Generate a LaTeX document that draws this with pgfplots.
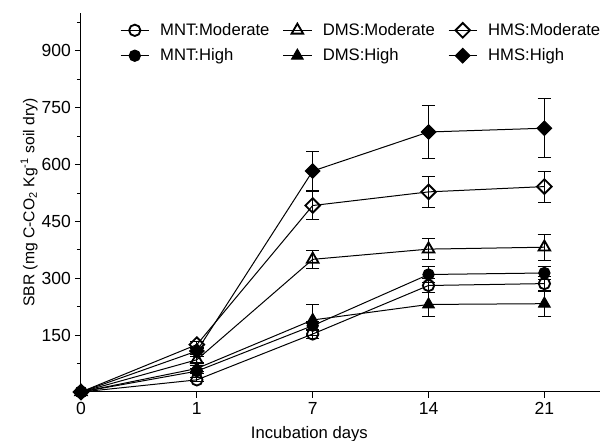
\documentclass[border=0pt]{standalone}
\usepackage{pgfplots}
\pgfplotsset{compat=1.18}
\usepackage{pgfplotstable}
\usepackage{fontspec}
\setmainfont{Liberation Sans}

\pgfplotstableread{
x y e
0 0 0
1 32 5
2 153 12
3 281 18
4 286 18
}\mntmod
\pgfplotstableread{
x y e
0 0 0
1 85 8
2 350 24
3 377 28
4 382 34
}\dmsmod
\pgfplotstableread{
x y e
0 0 0
1 125 8
2 492 36
3 528 41
4 542 41
}\hmsmod
\pgfplotstableread{
x y e
0 0 0
1 55 6
2 175 12
3 310 20
4 314 18
}\mnthigh
\pgfplotstableread{
x y e
0 0 0
1 62 8
2 190 40
3 231 32
4 233 33
}\dmshigh
\pgfplotstableread{
x y e
0 0 0
1 108 8
2 583 51
3 686 71
4 696 78
}\hmshigh

\begin{document}
\begin{tikzpicture}
\useasboundingbox (-48.6pt,-29.4pt) rectangle (316.2pt,235.2pt);
\begin{axis}[
  at={(0,0)}, anchor=south west,
  scale only axis,
  width=311.4pt, height=227.4pt,
  xmin=0, xmax=4.48,
  ymin=0, ymax=1000,
  axis x line*=bottom,
  axis y line*=left,
  axis line style={line width=0.6pt},
  xtick={0,1,2,3,4},
  xticklabels={0,1,7,14,21},
  ytick={150,300,450,600,750,900},
  minor ytick={75,225,375,525,675,825,975},
  tick align=outside,
  major tick length=3.6pt,
  minor tick length=2.4pt,
  tick style={black, line width=0.6pt},
  /pgf/number format/assume math mode=true,
  tick label style={font=\fontsize{10.5}{12}\selectfont},
  xticklabel style={yshift=1pt},
  yticklabel style={xshift=1pt},
  xlabel={Incubation days},
  ylabel={SBR (mg C-CO\textsubscript{2} Kg\textsuperscript{-1} soil dry)},
  xlabel style={font=\fontsize{10}{12}\selectfont, at={(axis description cs:0.44,0)}, yshift=-17pt, anchor=north},
  ylabel style={font=\fontsize{9.4}{11}\selectfont, yshift=-4.5pt},
  clip=false,
  legend columns=3,
  legend style={draw=none, fill=none, at={(0.065,0.992)}, anchor=north west,
     font=\fontsize{10}{12}\selectfont, row sep=2.5pt,
     /tikz/every odd column/.append style={column sep=4.4pt},
     /tikz/every even column/.append style={column sep=5.9pt}},
  legend cell align=left,
  every axis plot/.append style={black, line width=0.6pt,
     error bars/y dir=both, error bars/y explicit,
     error bars/error bar style={line width=0.6pt, black},
     error bars/error mark options={rotate=90, mark size=4pt, line width=0.6pt, black}},
]
\addplot[mark=o, mark size=3.4pt, mark options={line width=1.1pt, fill=none}] table[x=x,y=y,y error=e]{\mntmod};
\addlegendentry{MNT:Moderate}
\addplot[mark=triangle, mark size=4pt, mark options={line width=1.1pt, fill=none}] table[x=x,y=y,y error=e]{\dmsmod};
\addlegendentry{DMS:Moderate}
\addplot[mark=square, mark size=3.1pt, mark options={rotate=45, line width=1.1pt, fill=none}] table[x=x,y=y,y error=e]{\hmsmod};
\addlegendentry{HMS:Moderate}
\addplot[mark=*, mark size=3.4pt, mark options={fill=black}] table[x=x,y=y,y error=e]{\mnthigh};
\addlegendentry{MNT:High}
\addplot[mark=triangle*, mark size=4pt, mark options={fill=black}] table[x=x,y=y,y error=e]{\dmshigh};
\addlegendentry{DMS:High}
\addplot[mark=square*, mark size=3.1pt, mark options={rotate=45, fill=black}] table[x=x,y=y,y error=e]{\hmshigh};
\addlegendentry{HMS:High}
\end{axis}
\end{tikzpicture}
\end{document}
